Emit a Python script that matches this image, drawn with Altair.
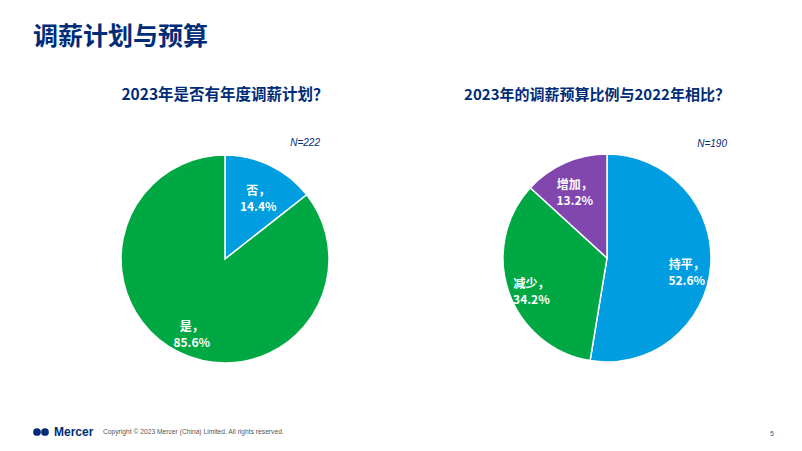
import altair as alt
import pandas as pd

# ---- data ----
left_cats = ["否", "是"]
left_vals = [14.4, 85.6]
left_colors = ["#009DE0", "#00A843"]

right_cats = ["持平", "减少", "增加"]
right_vals = [52.6, 34.2, 13.2]
right_colors = ["#009DE0", "#00A843", "#8246AF"]

title_text = "调薪计划与预算"
left_title = "2023年是否有年度调薪计划？"
right_title = "2023年的调薪预算比例与2022年相比？"
left_n = "N=222"
right_n = "N=190"
copyright_text = "Copyright © 2023 Mercer (China) Limited. All rights reserved."
page_no = "5"

NAVY = "#002C77"
CJK = "Noto Sans CJK SC"
LATIN = "Liberation Sans"

def make_df(cats, vals, colors):
    return pd.DataFrame({
        "cat": cats,
        "val": vals,
        "idx": list(range(len(cats))),
        "color": colors,
        "label": [f"{c}，\n{v:.1f}%" for c, v in zip(cats, vals)],
    })

ldf = make_df(left_cats, left_vals, left_colors)
rdf = make_df(right_cats, right_vals, right_colors)

W, H = 786, 435

def pie(df, cx, cy, r, lr):
    base = alt.Chart(df).encode(
        theta=alt.Theta("val:Q", stack=True, scale=alt.Scale(domain=[0, 100])),
        order=alt.Order("idx:Q"),
    )
    arcs = base.mark_arc(stroke="white", strokeWidth=1.5).encode(
        color=alt.Color("color:N", scale=None),
        x=alt.value(cx), y=alt.value(cy), radius=alt.value(r),
    )
    labels = base.mark_text(
        lineBreak="\n", font=CJK, fontSize=12, fontWeight="bold",
        color="white", align="center", baseline="middle", lineHeight=16,
    ).encode(
        text="label:N", x=alt.value(cx), y=alt.value(cy), radius=alt.value(lr),
    )
    return arcs, labels

la, ll = pie(ldf, 217, 251, 104, 76)
ra, rl = pie(rdf, 599, 250, 104, 80)

one = pd.DataFrame({"a": [0]})

def txt(text, x, y, size, color=NAVY, weight="normal", font=CJK, align="left", style="normal"):
    return alt.Chart(one).mark_text(
        text=text, fontSize=size, color=color, fontWeight=weight, font=font,
        align=align, baseline="middle", fontStyle=style,
    ).encode(x=alt.value(x), y=alt.value(y))

layers = [
    la, ll, ra, rl,
    txt(title_text, 25, 29, 25, weight="bold"),
    txt(left_title, 217, 87, 15.5, weight="bold", align="center"),
    txt(right_title, 589, 87, 15, weight="bold", align="center"),
    txt(left_n, 312, 135, 10, font=LATIN, align="right", style="italic"),
    txt(right_n, 719, 136, 10, font=LATIN, align="right", style="italic"),
    txt("Mercer", 46, 424, 12, font=LATIN, weight="bold"),
    txt(copyright_text, 95, 424, 6.7, color="#555555", font=LATIN),
    txt(page_no, 762, 426, 7, color="#1F5DA8", font=LATIN),
]

logo = alt.Chart(pd.DataFrame({"x": [29, 37]})).mark_point(
    shape="circle", filled=True, size=60, color=NAVY, opacity=1
).encode(x=alt.X("x:Q", scale=None), y=alt.value(424))
layers.append(logo)

chart = alt.layer(*layers).resolve_scale(theta="independent").properties(
    width=W, height=H, autosize=alt.AutoSizeParams(type="none"), padding=0,
).configure_view(stroke=None)

chart.save("out.html", embed_options={"renderer": "svg", "actions": False})
